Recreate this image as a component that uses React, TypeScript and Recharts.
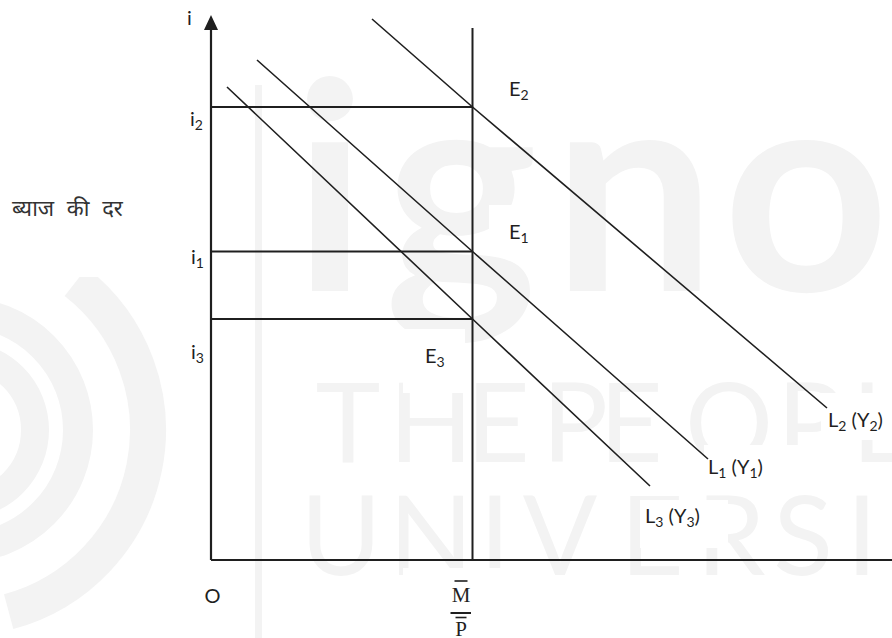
import { LineChart, Line, XAxis, YAxis, ReferenceLine, ReferenceDot } from "recharts";

const WIDTH = 892;
const HEIGHT = 638;
const INK = "#1f1f1f";
const SHADE = "#f3f3f3";
const SANS = "Lato, 'Open Sans', sans-serif";
const SERIF = "'Liberation Serif', 'DejaVu Serif', serif";
const HINDI = "'Noto Sans Devanagari', 'Lohit Devanagari', 'Noto Sans', sans-serif";

// money balances on x, interest rate on y (chart units)
const Q_MAX = 681;
const I_MAX = 545;
const AXIS_TOP = 530;
const realMoney = 261.5; // M/P
const supplyTop = 532;

const rateSubs = ["2", "1", "3"];
const rateLevels = [453, 308.5, 241];

const curveL2 = [
  { q: 161, i: 541 },
  { q: 261.5, i: 453 },
  { q: 616, i: 152 },
];
const curveL1 = [
  { q: 46, i: 500 },
  { q: 261.5, i: 308.5 },
  { q: 497, i: 101 },
];
const curveL3 = [
  { q: 16, i: 473 },
  { q: 261.5, i: 241 },
  { q: 439, i: 74 },
];

type Part = [string, boolean];

function Tag({
  cx,
  cy,
  dx,
  dy,
  parts,
  size = 20,
}: {
  cx: number;
  cy: number;
  dx: number;
  dy: number;
  parts: Part[];
  size?: number;
}) {
  let low = false;
  return (
    <text
      x={cx + dx}
      y={cy + dy}
      fontFamily={SANS}
      fontSize={size}
      fill={INK}
      style={{ whiteSpace: "pre" }}
    >
      {parts.map(([t, sub], k) => {
        const shift = sub && !low ? 4 : !sub && low ? -4 : 0;
        low = sub;
        return (
          <tspan key={k} dy={shift} fontSize={sub ? 14 : size}>
            {t}
          </tspan>
        );
      })}
    </text>
  );
}

function arc(cx: number, cy: number, r: number, a0: number, a1: number) {
  const rad = Math.PI / 180;
  const x0 = cx + r * Math.cos(a0 * rad);
  const y0 = cy + r * Math.sin(a0 * rad);
  const x1 = cx + r * Math.cos(a1 * rad);
  const y1 = cy + r * Math.sin(a1 * rad);
  return `M ${x0} ${y0} A ${r} ${r} 0 ${a1 - a0 > 180 ? 1 : 0} 1 ${x1} ${y1}`;
}

const logoLetters: [string, number][] = [
  ["i", 330],
  ["g", 461],
  ["n", 634],
  ["o", 806],
];
const mottoTop: [string, number][] = [
  ["T", 348],
  ["H", 431],
  ["E", 498],
  ["P", 575],
  ["E", 631],
  ["O", 729],
  ["P", 810],
  ["L", 880],
];
const mottoBottom: [string, number][] = [
  ["U", 341],
  ["N", 431],
  ["I", 495],
  ["V", 560],
  ["E", 652],
  ["R", 731],
  ["S", 803],
  ["I", 862],
];
const clearBoxes = [
  [10, 183, 153, 94],
  [163, 232, 42, 56],
  [163, 325, 42, 55],
  [489, 205, 43, 48],
  [403, 329, 62, 64],
  [821, 393, 71, 47],
  [704, 445, 131, 45],
  [640, 500, 88, 48],
  [403, 568, 120, 70],
];

function Backdrop() {
  return (
    <svg width={WIDTH} height={HEIGHT} style={{ position: "absolute", left: 0, top: 0 }}>
      <rect width={WIDTH} height={HEIGHT} fill="#fff" />
      <g fill="none" stroke={SHADE}>
        <path d={arc(-40, 430, 188, -52, 75)} strokeWidth={36} />
        <path d={arc(-40, 430, 118, -90, 90)} strokeWidth={30} />
        <path d={arc(-40, 430, 75, -90, 90)} strokeWidth={28} />
      </g>
      <rect x={255} y={85} width={7} height={HEIGHT - 85} fill={SHADE} />
      <g fill={SHADE} fontFamily="Lato, sans-serif" textAnchor="middle">
        {logoLetters.map(([c, x], k) => (
          <text key={k} x={x} y={291} fontSize={290} fontWeight={700}>
            {c}
          </text>
        ))}
        {mottoTop.map(([c, x], k) => (
          <text key={k} x={x} y={462} fontSize={110} fontWeight={400}>
            {c}
          </text>
        ))}
        {mottoBottom.map(([c, x], k) => (
          <text key={k} x={x} y={575} fontSize={110} fontWeight={400}>
            {c}
          </text>
        ))}
      </g>
      {clearBoxes.map(([x, y, w, h], k) => (
        <rect key={k} x={x} y={y} width={w} height={h} fill="#fff" />
      ))}
    </svg>
  );
}

export default function App() {
  const curves = [
    { data: curveL2, name: "L2" },
    { data: curveL1, name: "L1" },
    { data: curveL3, name: "L3" },
  ];
  const rateOffsets = [
    [-21, 19],
    [-20, 12.5],
    [-20, 40],
  ];
  const eqOffsets = [
    [36.5, -11],
    [36.5, -12.5],
    [-47.5, 44],
  ];
  const endOffsets = [
    [1, 19],
    [0, 15],
    [-5, 37],
  ];
  const curveSubs = ["2", "1", "3"];

  return (
    <div style={{ position: "absolute", left: 0, top: 0, width: WIDTH, height: HEIGHT }}>
      <Backdrop />
      <div style={{ position: "absolute", left: 0, top: 0 }}>
        <LineChart
          width={WIDTH}
          height={HEIGHT}
          margin={{ top: 15, right: 0, bottom: 78, left: 211 }}
        >
          <XAxis type="number" dataKey="q" domain={[0, Q_MAX]} hide />
          <YAxis type="number" dataKey="i" domain={[0, I_MAX]} hide />

          <ReferenceLine
            segment={[{ x: 0, y: 0 }, { x: 0, y: AXIS_TOP }]}
            stroke={INK}
            strokeWidth={2.2}
          />
          <ReferenceLine
            segment={[{ x: 0, y: 0 }, { x: Q_MAX, y: 0 }]}
            stroke={INK}
            strokeWidth={2.2}
          />
          <ReferenceLine
            segment={[{ x: realMoney, y: 0 }, { x: realMoney, y: supplyTop }]}
            stroke={INK}
            strokeWidth={2}
          />
          {rateLevels.map((r, k) => (
            <ReferenceLine
              key={k}
              segment={[{ x: 0, y: r }, { x: realMoney, y: r }]}
              stroke={INK}
              strokeWidth={2}
            />
          ))}

          {curves.map((c) => (
            <Line
              key={c.name}
              data={c.data}
              dataKey="i"
              type="linear"
              stroke={INK}
              strokeWidth={1.6}
              dot={false}
              activeDot={false}
              isAnimationActive={false}
            />
          ))}

          <ReferenceDot
            x={0}
            y={I_MAX}
            r={0}
            ifOverflow="visible"
            shape={(p: any) => (
              <polygon
                points={`${p.cx},${p.cy} ${p.cx - 7},${p.cy + 15} ${p.cx + 7},${p.cy + 15}`}
                fill={INK}
              />
            )}
          />
          <ReferenceDot
            x={0}
            y={I_MAX}
            r={0}
            ifOverflow="visible"
            shape={(p: any) => <Tag cx={p.cx} cy={p.cy} dx={-24} dy={10} parts={[["i", false]]} />}
          />

          {rateLevels.map((r, k) => (
            <ReferenceDot
              key={`r${k}`}
              x={0}
              y={r}
              r={0}
              ifOverflow="visible"
              shape={(p: any) => (
                <Tag
                  cx={p.cx}
                  cy={p.cy}
                  dx={rateOffsets[k][0]}
                  dy={rateOffsets[k][1]}
                  parts={[
                    ["i", false],
                    [rateSubs[k], true],
                  ]}
                />
              )}
            />
          ))}

          {rateLevels.map((r, k) => (
            <ReferenceDot
              key={`e${k}`}
              x={realMoney}
              y={r}
              r={0}
              ifOverflow="visible"
              shape={(p: any) => (
                <Tag
                  cx={p.cx}
                  cy={p.cy}
                  dx={eqOffsets[k][0]}
                  dy={eqOffsets[k][1]}
                  parts={[
                    ["E", false],
                    [rateSubs[k], true],
                  ]}
                />
              )}
            />
          ))}

          {curves.map((c, k) => {
            const end = c.data[c.data.length - 1];
            return (
              <ReferenceDot
                key={`l${k}`}
                x={end.q}
                y={end.i}
                r={0}
                ifOverflow="visible"
                shape={(p: any) => (
                  <Tag
                    cx={p.cx}
                    cy={p.cy}
                    dx={endOffsets[k][0]}
                    dy={endOffsets[k][1]}
                    parts={[
                      ["L", false],
                      [curveSubs[k], true],
                      [" (Y", false],
                      [curveSubs[k], true],
                      [")", false],
                    ]}
                  />
                )}
              />
            );
          })}

          <ReferenceDot
            x={0}
            y={rateLevels[1]}
            r={0}
            ifOverflow="visible"
            shape={(p: any) => (
              <text
                x={p.cx - 199}
                y={p.cy - 36}
                fontFamily={HINDI}
                fontSize={22}
                wordSpacing={7}
                fill="#333"
              >
                ब्याज की दर
              </text>
            )}
          />

          <ReferenceDot
            x={0}
            y={0}
            r={0}
            ifOverflow="visible"
            shape={(p: any) => (
              <text
                x={p.cx + 1.5}
                y={p.cy + 43}
                fontFamily={SANS}
                fontSize={20}
                fill={INK}
                textAnchor="middle"
              >
                O
              </text>
            )}
          />

          <ReferenceDot
            x={realMoney}
            y={0}
            r={0}
            ifOverflow="visible"
            shape={(p: any) => (
              <g fill={INK} stroke={INK}>
                <line x1={p.cx - 18} x2={p.cx - 5} y1={p.cy + 21} y2={p.cy + 21} strokeWidth={1.6} />
                <text
                  x={p.cx - 11.5}
                  y={p.cy + 42}
                  fontFamily={SERIF}
                  fontSize={21}
                  textAnchor="middle"
                  stroke="none"
                >
                  M
                </text>
                <line x1={p.cx - 22} x2={p.cx - 1.5} y1={p.cy + 53} y2={p.cy + 53} strokeWidth={2} />
                <line x1={p.cx - 17} x2={p.cx - 6} y1={p.cy + 57.5} y2={p.cy + 57.5} strokeWidth={1.6} />
                <text
                  x={p.cx - 11.5}
                  y={p.cy + 76}
                  fontFamily={SERIF}
                  fontSize={21}
                  textAnchor="middle"
                  stroke="none"
                >
                  P
                </text>
              </g>
            )}
          />
        </LineChart>
      </div>
    </div>
  );
}
